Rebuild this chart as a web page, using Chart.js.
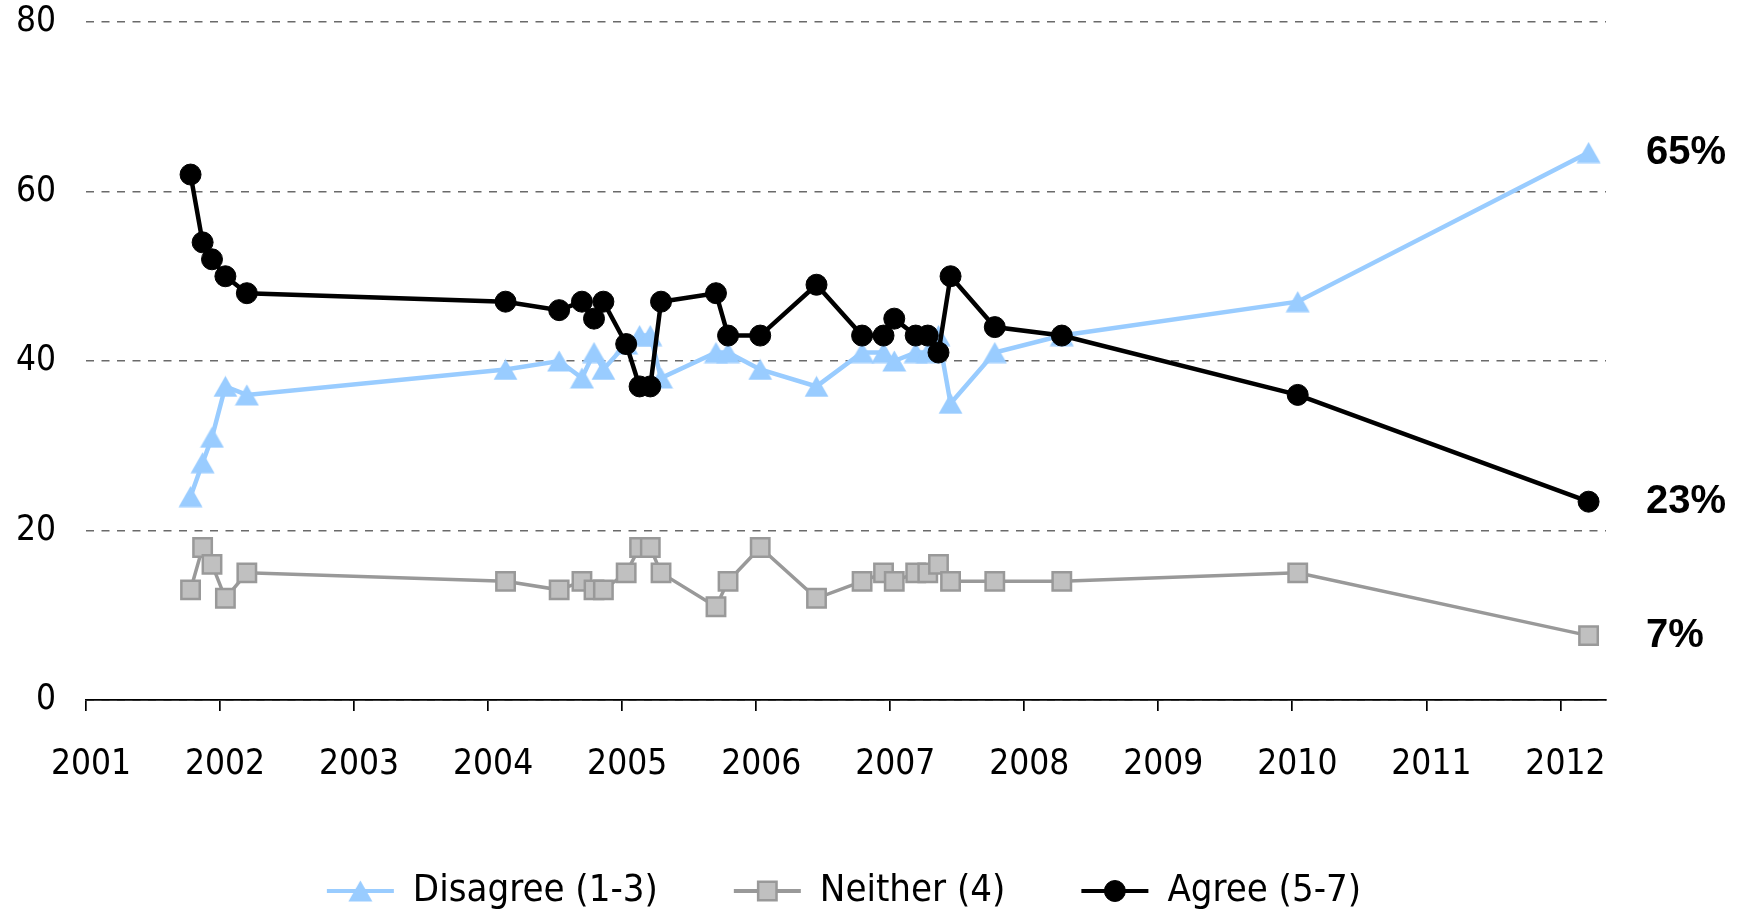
<!DOCTYPE html>
<html lang="en">
<head>
    <meta charset="UTF-8">
    <title>Disagree / Neither / Agree</title>
    <style>
        html, body { margin: 0; padding: 0; background: #fff; }
        #wrap { width: 1748px; height: 910px; }
    </style>
</head>
<body>
    <div id="wrap"><canvas id="grafica" width="1748" height="910"></canvas></div>

    <script src="https://cdn.jsdelivr.net/npm/chart.js"></script>
    <script>
        // survey dates as decimal years
        const surveyDates = [2001.78, 2001.87, 2001.94, 2002.04, 2002.20, 2004.13, 2004.53, 2004.70, 2004.79, 2004.86,
                             2005.03, 2005.13, 2005.21, 2005.29, 2005.70, 2005.79, 2006.03, 2006.45, 2006.79, 2006.95,
                             2007.03, 2007.19, 2007.28, 2007.36, 2007.45, 2007.78, 2008.28, 2010.04, 2012.21];
        const disagree = [24, 28, 31, 37, 36, 39, 40, 38, 41, 39, 42, 43, 43, 38, 41, 41, 39, 37, 41, 41,
                          40, 41, 41, 43, 35, 41, 43, 47, 64.6];
        const neither  = [13, 18, 16, 12, 15, 14, 13, 14, 13, 13, 15, 18, 18, 15, 11, 14, 18, 12, 14, 15,
                          14, 15, 15, 16, 14, 14, 14, 15, 7.6];
        const agree    = [62, 54, 52, 50, 48, 47, 46, 47, 45, 47, 42, 37, 37, 47, 48, 43, 43, 49, 43, 43,
                          45, 43, 43, 41, 50, 44, 43, 36, 23.4];
        const yearTicks = [2001, 2002, 2003, 2004, 2005, 2006, 2007, 2008, 2009, 2010, 2011, 2012];
        const seriesNames = ['Disagree (1-3)', 'Neither (4)', 'Agree (5-7)'];
        const endLabels = ['65%', '7%', '23%'];

        const fuente = "'DejaVu Sans Condensed', 'DejaVu Sans', sans-serif";

        // triangle marker centred on its box, like the original
        const triangulo = document.createElement('canvas');
        triangulo.width = 25;
        triangulo.height = 22;
        (function () {
            const t = triangulo.getContext('2d');
            t.fillStyle = '#99CCFF';
            t.beginPath();
            t.moveTo(12.5, 0.5);
            t.lineTo(24.5, 21.5);
            t.lineTo(0.5, 21.5);
            t.closePath();
            t.fill();
        })();

        function puntos(valores) {
            return surveyDates.map((x, i) => ({ x: x, y: valores[i] }));
        }

        function marcador(ctx, ds, x, y) {
            const r = ds.pointRadius;
            if (ds.pointStyle instanceof HTMLCanvasElement) {
                ctx.drawImage(ds.pointStyle, x - ds.pointStyle.width / 2, y - ds.pointStyle.height / 2);
                return;
            }
            ctx.save();
            ctx.fillStyle = ds.pointBackgroundColor;
            ctx.strokeStyle = ds.pointBorderColor;
            ctx.lineWidth = ds.pointBorderWidth;
            ctx.beginPath();
            if (ds.pointStyle === 'rect') {
                const s = Math.SQRT1_2 * r;
                ctx.rect(x - s, y - s, 2 * s, 2 * s);
            } else {
                ctx.arc(x, y, r, 0, 2 * Math.PI);
            }
            ctx.fill();
            ctx.stroke();
            ctx.restore();
        }

        // end labels + legend with line and marker
        const extras = {
            id: 'extras',
            afterDraw(chart) {
                const ctx = chart.ctx;
                const area = chart.chartArea;
                ctx.save();
                ctx.fillStyle = '#000';
                ctx.textBaseline = 'middle';
                ctx.textAlign = 'left';
                ctx.font = "bold 40px 'Liberation Sans', Arial, sans-serif";
                chart.data.datasets.forEach((ds, i) => {
                    const meta = chart.getDatasetMeta(i);
                    const p = meta.data[meta.data.length - 1];
                    ctx.fillText(endLabels[i], area.right + 40, p.y);
                });

                ctx.font = '38px ' + fuente;
                const lineLen = 67, gapText = 19, gapItem = 76;
                const anchos = chart.data.datasets.map(ds => ctx.measureText(ds.label).width);
                let total = 0;
                anchos.forEach((w, i) => { total += lineLen + gapText + w + (i < anchos.length - 1 ? gapItem : 0); });
                let x = (area.left + area.right) / 2 - total / 2 - 2;
                const y = 891;
                chart.data.datasets.forEach((ds, i) => {
                    ctx.strokeStyle = ds.borderColor;
                    ctx.lineWidth = 4;
                    ctx.beginPath();
                    ctx.moveTo(x, y);
                    ctx.lineTo(x + lineLen, y);
                    ctx.stroke();
                    marcador(ctx, ds, x + lineLen / 2, y);
                    ctx.fillStyle = '#000';
                    ctx.fillText(ds.label, x + lineLen + gapText, y);
                    x += lineLen + gapText + anchos[i] + gapItem;
                });
                ctx.restore();
            }
        };

        const ctx = document.getElementById('grafica').getContext('2d');
        const grafica = new Chart(ctx, {
            type: 'line',
            data: {
                datasets: [{
                    label: seriesNames[0],
                    data: puntos(disagree),
                    borderColor: '#99CCFF',
                    borderWidth: 4.5,
                    pointStyle: triangulo,
                    pointRadius: 12,
                    pointBackgroundColor: '#99CCFF',
                    pointBorderColor: '#99CCFF',
                    pointBorderWidth: 1,
                    order: 3
                }, {
                    label: seriesNames[1],
                    data: puntos(neither),
                    borderColor: '#999999',
                    borderWidth: 3.5,
                    pointStyle: 'rect',
                    pointRadius: 13,
                    pointBackgroundColor: '#C0C0C0',
                    pointBorderColor: '#999999',
                    pointBorderWidth: 2.5,
                    order: 2
                }, {
                    label: seriesNames[2],
                    data: puntos(agree),
                    borderColor: '#000000',
                    borderWidth: 4.5,
                    pointStyle: 'circle',
                    pointRadius: 10.5,
                    pointBackgroundColor: '#000000',
                    pointBorderColor: '#000000',
                    pointBorderWidth: 1,
                    order: 1
                }]
            },
            options: {
                responsive: false,
                animation: false,
                layout: { padding: { left: 0, right: 142, top: 22, bottom: 0 } },
                plugins: {
                    legend: { display: false },
                    tooltip: { enabled: false }
                },
                scales: {
                    x: {
                        type: 'linear',
                        min: 2001,
                        max: 2012.34,
                        afterBuildTicks: s => { s.ticks = yearTicks.map(v => ({ value: v })); },
                        afterFit: s => { s.height = 210; s.paddingLeft = 0; s.paddingRight = 0; },
                        border: { display: true, color: '#000', width: 1.7 },
                        grid: { drawOnChartArea: false, drawTicks: true, tickLength: 11, color: '#000', lineWidth: 1.7 },
                        ticks: {
                            color: '#000',
                            padding: 33,
                            labelOffset: 5,
                            maxRotation: 0,
                            autoSkip: false,
                            font: { family: fuente, size: 35 },
                            callback: v => String(v)
                        }
                    },
                    y: {
                        min: 0,
                        max: 80,
                        afterFit: s => { s.width = 86; s.paddingTop = 0; s.paddingBottom = 0; },
                        border: { display: false, dash: [8, 7.5] },
                        grid: { drawTicks: false, color: '#6a6a6a', lineWidth: 1.5 },
                        ticks: {
                            stepSize: 20,
                            color: '#000',
                            padding: 30,
                            font: { family: fuente, size: 35 }
                        }
                    }
                }
            },
            plugins: [extras]
        });
    </script>
</body>
</html>
